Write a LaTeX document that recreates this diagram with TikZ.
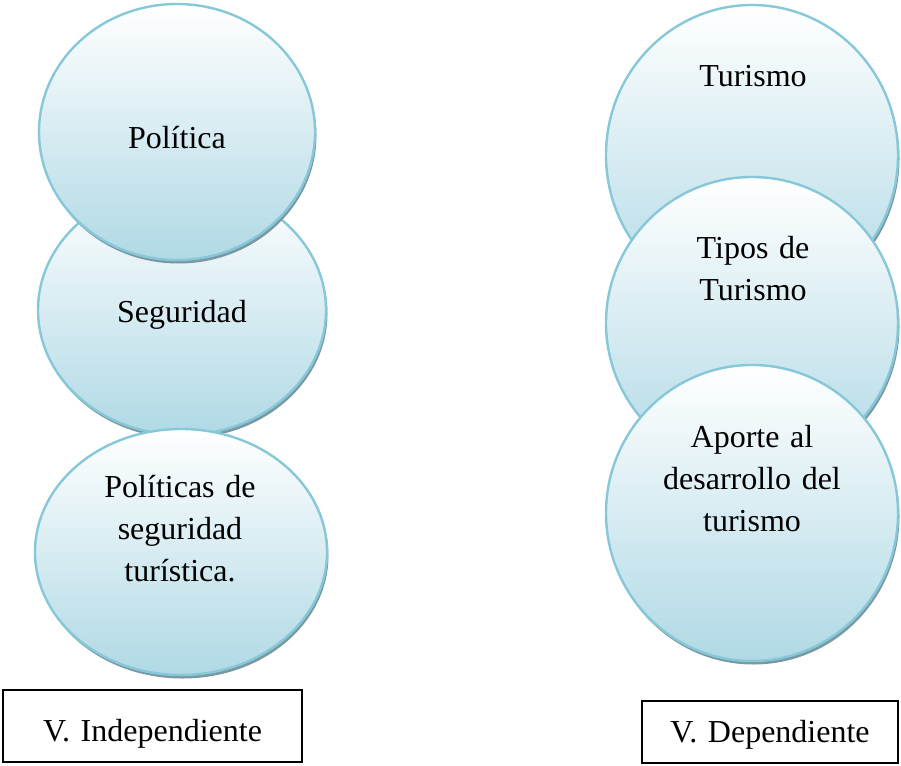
\documentclass[tikz,border=0pt]{standalone}
\usepackage{fontspec}
\setmainfont{Liberation Serif}
\usetikzlibrary{shapes.geometric,shadows}
\definecolor{bubline}{RGB}{134,200,216}
\definecolor{bubfill}{RGB}{176,217,229}
\definecolor{shadowc}{RGB}{122,152,162}
\tikzset{
  bub/.style={ellipse, draw=bubline, line width=2.4pt, top color=white, bottom color=bubfill,
    inner sep=0pt, general shadow={fill=shadowc, shadow xshift=1.5pt, shadow yshift=-3.5pt}},
  lbl/.style={font=\fontsize{32}{42}\selectfont, text width=280pt, align=center, anchor=base, inner sep=0pt},
  varbox/.style={draw=black, line width=1.4pt, inner sep=0pt, fill=white}
}
\begin{document}
\begin{tikzpicture}[x=1pt,y=-1pt]
\useasboundingbox (0,0) rectangle (901,765);
% left column
\node[bub, minimum width=288pt, minimum height=250pt] (seg) at (182,310) {};
\node[bub, minimum width=276pt, minimum height=256pt] (pol) at (177,132) {};
\node[bub, minimum width=292pt, minimum height=246pt] (polseg) at (181,552) {};
\node[lbl] (tpol) at (177,148) {Política};
\node[lbl] (tseg) at (182,322) {Seguridad};
\node[lbl] (tpolseg) at (180,497) {Políticas de\\seguridad\\turística.};
% right column
\node[bub, minimum width=292pt, minimum height=300pt] (tur) at (752,155) {};
\node[bub, minimum width=292pt, minimum height=292pt] (tipos) at (752,323) {};
\node[bub, minimum width=292pt, minimum height=296pt] (aporte) at (752,513) {};
\node[lbl] (ttur) at (753,87) {Turismo};
\node[lbl] (ttipos) at (753,258) {Tipos de\\Turismo};
\node[lbl] (taporte) at (752,447) {Aporte al\\desarrollo del\\turismo};
% boxes
\node[varbox, minimum width=299pt, minimum height=72pt] (vind) at (152.5,726) {};
\node[lbl] (tvind) at (152.5,741) {V. Independiente};
\node[varbox, minimum width=256pt, minimum height=62pt] (vdep) at (770,732) {};
\node[lbl] (tvdep) at (770,742) {V. Dependiente};
\end{tikzpicture}
\end{document}
